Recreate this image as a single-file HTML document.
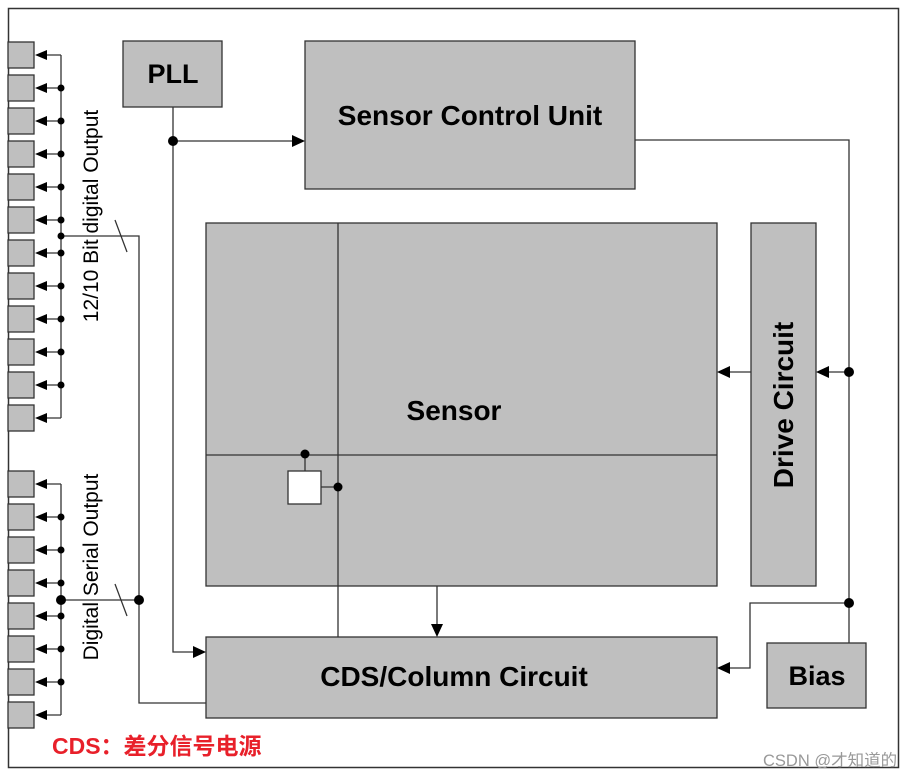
<!DOCTYPE html>
<html><head><meta charset="utf-8"><style>
html,body{margin:0;padding:0;background:#fff;}
svg{display:block;}
</style></head><body>
<svg width="914" height="779" viewBox="0 0 914 779" xmlns="http://www.w3.org/2000/svg" font-family="Liberation Sans, Arial, sans-serif">
<rect x="0" y="0" width="914" height="779" fill="#fff"/>
<rect x="8.5" y="8.5" width="890" height="759" fill="none" stroke="#333" stroke-width="1.5"/>
<g stroke="#333" stroke-width="1.3" fill="#bfbfbf">
<rect x="8" y="42" width="26" height="26"/><rect x="8" y="75" width="26" height="26"/><rect x="8" y="108" width="26" height="26"/><rect x="8" y="141" width="26" height="26"/><rect x="8" y="174" width="26" height="26"/><rect x="8" y="207" width="26" height="26"/><rect x="8" y="240" width="26" height="26"/><rect x="8" y="273" width="26" height="26"/><rect x="8" y="306" width="26" height="26"/><rect x="8" y="339" width="26" height="26"/><rect x="8" y="372" width="26" height="26"/><rect x="8" y="405" width="26" height="26"/>
<rect x="8" y="471" width="26" height="26"/><rect x="8" y="504" width="26" height="26"/><rect x="8" y="537" width="26" height="26"/><rect x="8" y="570" width="26" height="26"/><rect x="8" y="603" width="26" height="26"/><rect x="8" y="636" width="26" height="26"/><rect x="8" y="669" width="26" height="26"/><rect x="8" y="702" width="26" height="26"/>
<rect x="123" y="41" width="99" height="66"/>
<rect x="305" y="41" width="330" height="148"/>
<rect x="206" y="223" width="511" height="363"/>
<rect x="751" y="223" width="65" height="363"/>
<rect x="206" y="637" width="511" height="81"/>
<rect x="767" y="643" width="99" height="65"/>
</g>
<g stroke="#333" stroke-width="1.3" fill="none">
<path d="M61 55 V418"/>
<path d="M61 55H40 M61 88H40 M61 121H40 M61 154H40 M61 187H40 M61 220H40 M61 253H40 M61 286H40 M61 319H40 M61 352H40 M61 385H40 M61 418H40"/>
<path d="M61 236 H139 V703 H206"/>
<path d="M115 220 L127 252"/>
<path d="M61 484 V715"/>
<path d="M61 484H40 M61 517H40 M61 550H40 M61 583H40 M61 616H40 M61 649H40 M61 682H40 M61 715H40"/>
<path d="M61 600 H139"/>
<path d="M115 584 L127 616"/>
<path d="M173 107 V652 H198"/>
<path d="M173 141 H296"/>
<path d="M635 140 H849 V643"/>
<path d="M849 372 H826"/>
<path d="M751 372 H727"/>
<path d="M849 603 H750 V668 H727"/>
<path d="M338 223 V637"/>
<path d="M206 455 H717"/>
<path d="M305 455 V471"/>
<path d="M321 487 H338"/>
<path d="M437 586 V627"/>
</g>
<rect x="288" y="471" width="33" height="33" fill="#fff" stroke="#333" stroke-width="1.3"/>
<g fill="#000">
<polygon points="35,55 47,50 47,60"/><polygon points="35,88 47,83 47,93"/><polygon points="35,121 47,116 47,126"/><polygon points="35,154 47,149 47,159"/><polygon points="35,187 47,182 47,192"/><polygon points="35,220 47,215 47,225"/><polygon points="35,253 47,248 47,258"/><polygon points="35,286 47,281 47,291"/><polygon points="35,319 47,314 47,324"/><polygon points="35,352 47,347 47,357"/><polygon points="35,385 47,380 47,390"/><polygon points="35,418 47,413 47,423"/>
<polygon points="35,484 47,479 47,489"/><polygon points="35,517 47,512 47,522"/><polygon points="35,550 47,545 47,555"/><polygon points="35,583 47,578 47,588"/><polygon points="35,616 47,611 47,621"/><polygon points="35,649 47,644 47,654"/><polygon points="35,682 47,677 47,687"/><polygon points="35,715 47,710 47,720"/>
<circle cx="61" cy="88" r="3.5"/><circle cx="61" cy="121" r="3.5"/><circle cx="61" cy="154" r="3.5"/><circle cx="61" cy="187" r="3.5"/><circle cx="61" cy="220" r="3.5"/><circle cx="61" cy="236" r="3.5"/><circle cx="61" cy="253" r="3.5"/><circle cx="61" cy="286" r="3.5"/><circle cx="61" cy="319" r="3.5"/><circle cx="61" cy="352" r="3.5"/><circle cx="61" cy="385" r="3.5"/>
<circle cx="61" cy="517" r="3.5"/><circle cx="61" cy="550" r="3.5"/><circle cx="61" cy="583" r="3.5"/><circle cx="61" cy="600" r="5"/><circle cx="61" cy="616" r="3.5"/><circle cx="61" cy="649" r="3.5"/><circle cx="61" cy="682" r="3.5"/>
<circle cx="139" cy="600" r="5"/>
<circle cx="173" cy="141" r="5"/>
<polygon points="305,141 292,135 292,147"/>
<polygon points="206,652 193,646 193,658"/>
<circle cx="849" cy="372" r="5"/>
<circle cx="849" cy="603" r="5"/>
<polygon points="816,372 829,366 829,378"/>
<polygon points="717,372 730,366 730,378"/>
<polygon points="717,668 730,662 730,674"/>
<polygon points="437,637 431,624 443,624"/>
<circle cx="305" cy="454" r="4.5"/>
<circle cx="338" cy="487" r="4.5"/>
</g>
<g font-weight="bold" fill="#000" text-anchor="middle">
<text x="173" y="83" font-size="27">PLL</text>
<text x="470" y="125" font-size="28">Sensor Control Unit</text>
<text x="454" y="420" font-size="28">Sensor</text>
<text x="454" y="686" font-size="28">CDS/Column Circuit</text>
<text x="817" y="685" font-size="27">Bias</text>
<text transform="translate(793,405) rotate(-90)" font-size="28">Drive Circuit</text>
</g>
<g fill="#000" text-anchor="middle" font-size="21">
<text transform="translate(98,216) rotate(-90)">12/10 Bit digital Output</text>
<text transform="translate(98,567) rotate(-90)">Digital Serial Output</text>
</g>
<text x="52" y="754" font-size="23" font-weight="bold" fill="#e8202a" font-family="Liberation Sans, Noto Sans CJK SC, sans-serif">CDS：差分信号电源</text>
<text x="763" y="766" font-size="16.5" fill="#999" font-family="Liberation Sans, Noto Sans CJK SC, sans-serif">CSDN @才知道的</text>
</svg>
</body></html>
